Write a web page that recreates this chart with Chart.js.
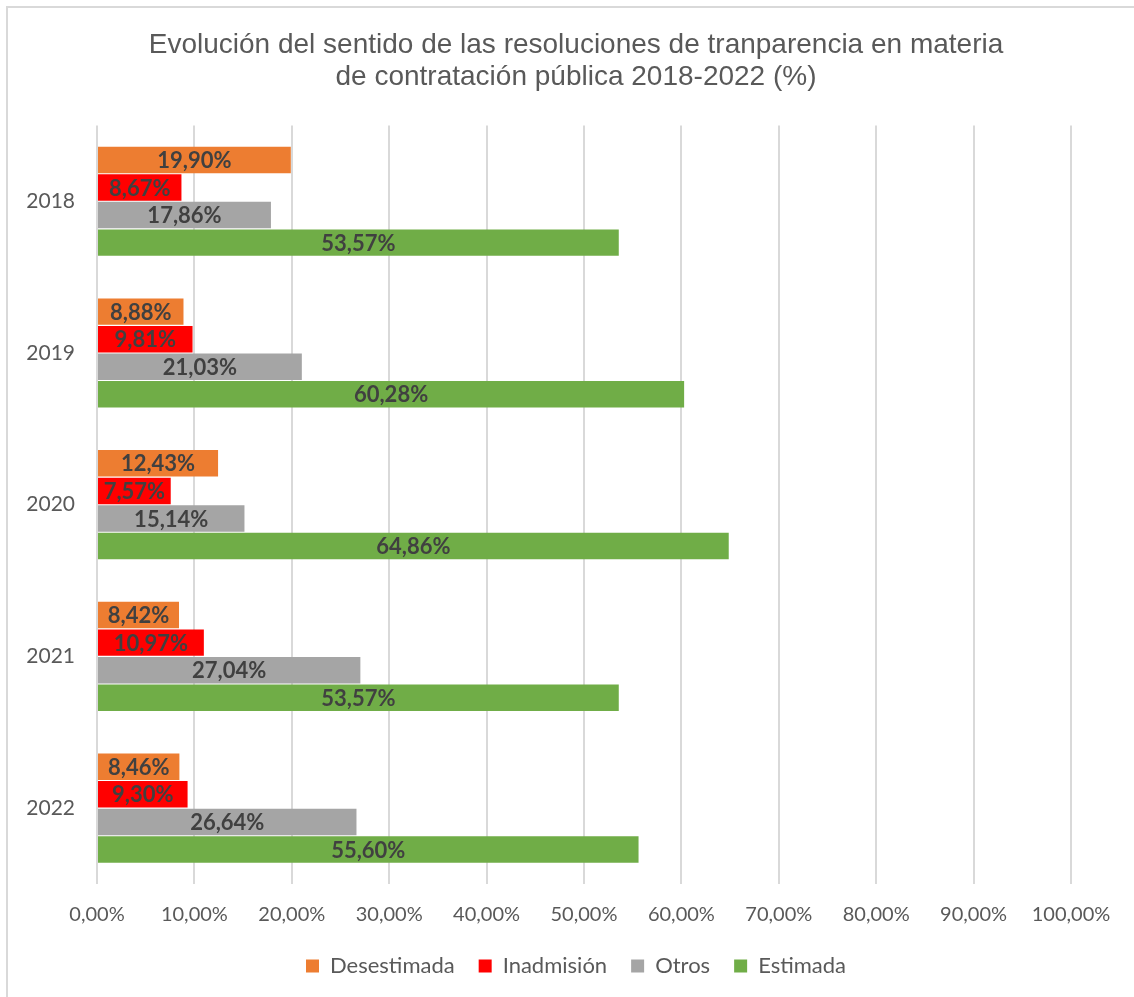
<!DOCTYPE html>
<html>
<head>
<meta charset="utf-8">
<script src="https://cdn.jsdelivr.net/npm/chart.js@4.4.1/dist/chart.umd.min.js"></script>
<style>
  html, body { margin: 0; padding: 0; background: #ffffff; }
  #wrap { width: 1134px; height: 997px; position: relative; }
</style>
</head>
<body>
<div id="wrap"><canvas id="c" width="1134" height="997"></canvas></div>
<script>
const titleLines = [
  'Evolución del sentido de las resoluciones de tranparencia en materia',
  'de contratación pública 2018-2022 (%)'
];
const years = ['2018', '2019', '2020', '2021', '2022'];
const seriesNames = ['Desestimada', 'Inadmisión', 'Otros', 'Estimada'];
const desestimada = [19.90, 8.88, 12.43, 8.42, 8.46];
const inadmision = [8.67, 9.81, 7.57, 10.97, 9.30];
const otros = [17.86, 21.03, 15.14, 27.04, 26.64];
const estimada = [53.57, 60.28, 64.86, 53.57, 55.60];
const seriesColors = ['#ED7D31', '#FF0000', '#A5A5A5', '#70AD47'];
const xTickStep = 10;
const xMax = 100;

function fmtPct(v) {
  return v.toFixed(2).replace('.', ',') + '%';
}

const frame = {
  id: 'frame',
  beforeDraw(chart) {
    const ctx = chart.ctx;
    ctx.save();
    ctx.fillStyle = '#ffffff';
    ctx.fillRect(0, 0, chart.width, chart.height);
    ctx.strokeStyle = '#d9d9d9';
    ctx.lineWidth = 2;
    ctx.strokeRect(7, 7, chart.width + 20, chart.height + 20);
    ctx.restore();
  }
};

const barLabels = {
  id: 'barLabels',
  afterDatasetsDraw(chart) {
    const ctx = chart.ctx;
    ctx.save();
    ctx.font = 'bold 22px Lato, "Open Sans", sans-serif';
    ctx.fillStyle = '#404040';
    ctx.textAlign = 'center';
    ctx.textBaseline = 'middle';
    chart.data.datasets.forEach((ds, di) => {
      const meta = chart.getDatasetMeta(di);
      meta.data.forEach((bar, i) => {
        const p = bar.getProps(['x', 'y', 'base'], true);
        ctx.fillText(fmtPct(ds.data[i]), (p.x + p.base) / 2, p.y + 1);
      });
    });
    ctx.restore();
  }
};

const datasets = [desestimada, inadmision, otros, estimada].map((d, i) => ({
  label: seriesNames[i],
  data: d,
  backgroundColor: seriesColors[i],
  borderWidth: 0,
  barPercentage: 0.96,
  categoryPercentage: 0.727
}));

new Chart(document.getElementById('c'), {
  type: 'bar',
  data: { labels: years, datasets },
  options: {
    indexAxis: 'y',
    responsive: false,
    animation: false,
    layout: { padding: { left: 18, right: 0, top: 0, bottom: 10 } },
    scales: {
      x: {
        min: 0,
        max: xMax,
        ticks: {
          stepSize: xTickStep,
          color: '#595959',
          font: { family: 'Lato, "Open Sans", sans-serif', size: 20 },
          padding: 19,
          callback: (v) => fmtPct(v)
        },
        grid: { color: '#d9d9d9', lineWidth: 2, drawTicks: false },
        border: { display: false },
        afterFit(scale) { scale.height = 47; }
      },
      y: {
        ticks: {
          color: '#595959',
          font: { family: 'Lato, "Open Sans", sans-serif', size: 21 },
          padding: 22
        },
        grid: { display: false, drawTicks: false },
        border: { display: false },
        afterFit(scale) { scale.width = 79; }
      },
      yRight: {
        type: 'category',
        labels: years,
        position: 'right',
        ticks: { display: false },
        grid: { display: false, drawTicks: false },
        border: { display: false },
        afterFit(scale) { scale.width = 63; }
      }
    },
    plugins: {
      title: {
        display: true,
        text: titleLines,
        color: '#595959',
        font: { family: '"Liberation Sans", Arial, sans-serif', size: 28, weight: 'normal', lineHeight: 1.15 },
        padding: { top: 29, bottom: 32 }
      },
      legend: {
        position: 'bottom',
        labels: {
          boxWidth: 13,
          boxHeight: 13,
          padding: 24,
          color: '#595959',
          font: { family: 'Lato, "Open Sans", sans-serif', size: 22 }
        }
      },
      tooltip: { enabled: false }
    }
  },
  plugins: [frame, barLabels]
});
</script>
</body>
</html>
